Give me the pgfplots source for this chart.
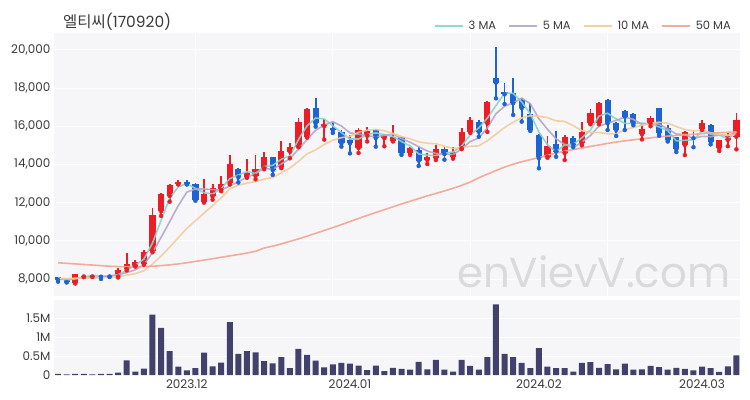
\documentclass[border=0pt]{standalone}
\usepackage{fontspec}
\setmainfont{Poppins}
\newfontfamily\cjk{Noto Sans CJK KR}
\usepackage{pgfplots}
\usepackage{pgfplotstable}
\pgfplotsset{compat=1.18}

\definecolor{bgc}{HTML}{F6F6F8}
\definecolor{txt}{HTML}{3A3A3A}
\definecolor{upc}{HTML}{EE1C25}
\definecolor{dnc}{HTML}{1E63D6}
\definecolor{ma3c}{HTML}{86D5CB}
\definecolor{ma5c}{HTML}{B4A6C9}
\definecolor{ma10c}{HTML}{F2CC9A}
\definecolor{ma50c}{HTML}{F3A393}
\definecolor{volc}{HTML}{42416C}
\definecolor{wmc}{HTML}{DADADA}

% rising candles (close > open)
\pgfplotstableread{
x o h l c
2 7780 8280 7770 8250
3 8130 8220 8100 8180
4 8130 8200 8110 8180
7 8130 8590 8080 8450
8 8520 9350 8450 8810
9 8700 9000 8650 8900
10 8800 9530 8750 9400
11 9450 11700 9400 11350
12 11550 12500 11300 12450
13 12350 13000 12050 12900
14 12970 13200 12950 13100
17 12050 13220 12000 12450
18 12320 13000 12150 12750
19 12660 13400 12600 13000
20 13010 14500 12950 14000
22 13320 14270 13300 13530
23 13400 14490 13220 13750
24 13800 14630 13750 14400
26 13850 15240 13800 14720
27 14670 15100 14320 14930
28 14930 16410 14900 16240
29 15450 16950 15400 16890
31 16000 16400 15300 16100
35 14850 15900 14600 15800
36 15500 15950 15200 15770
38 15370 15600 14950 15540
39 15250 16060 15200 15450
41 14600 14930 14500 14840
43 14230 14580 14020 14400
44 14320 15000 14230 14790
46 14400 14900 14300 14630
47 14840 15890 14800 15700
48 15710 16470 15650 16330
50 16150 17300 15700 17250
57 14400 15490 14350 14960
59 14600 15550 14230 15450
61 15100 16200 15000 15710
62 16150 16890 16100 16680
63 16150 17290 16100 17200
68 15580 16150 15310 15840
69 16150 16530 16000 16410
73 15020 15750 14490 15710
75 15840 16300 15800 16180
77 14840 15300 14700 15280
78 15280 15650 14950 15490
79 15450 16710 14790 16330
}\upcandles

% falling candles (close < open)
\pgfplotstableread{
x o h l c
0 8100 8130 7860 7950
1 7980 7990 7820 7830
5 8170 8180 8000 8120
6 8160 8170 8110 8130
15 13100 13200 12950 12970
16 13000 13050 12100 12150
21 13740 13800 13050 13320
25 14370 14400 13450 13700
30 16940 17460 15980 16150
32 15930 16200 15650 15800
33 15700 15800 14930 15100
34 15280 15540 14580 15100
37 15800 15830 14930 15380
40 15420 15450 14500 14600
42 14760 14920 13920 14200
45 14790 14900 14250 14540
49 16240 16300 15450 15710
51 18500 20160 17460 18280
52 17780 18250 17160 17670
53 17720 18510 16590 17200
54 17370 17500 16240 16940
55 16640 17230 15750 15800
56 15540 15580 13800 14320
58 15070 15770 14400 14670
60 15370 15500 14900 15020
64 17370 17400 15800 16150
65 16180 16200 15490 15800
66 16820 16850 15800 16500
67 16640 16700 16050 16150
70 16940 16940 15500 15630
71 15890 16060 15200 15280
72 15420 15450 14650 14790
74 15450 15800 14900 15370
76 16060 16100 15050 15190
}\downcandles

\pgfplotstableread{
x m3 m5 m10 m50
0 8020 8030 8040 8850
1 7940 7990 8020 8820
2 8010 8030 8040 8790
3 8090 8050 8050 8760
4 8200 8080 8060 8730
5 8160 8110 8070 8700
6 8140 8170 8080 8670
7 8230 8210 8120 8650
8 8460 8340 8200 8640
9 8720 8480 8280 8640
10 9040 8740 8430 8650
11 9880 9380 8780 8670
12 11070 10180 9200 8700
13 12230 11000 9670 8740
14 12820 11840 10160 8790
15 12990 12550 10650 8850
16 12740 12710 11050 8920
17 12520 12710 11450 8990
18 12450 12680 11840 9060
19 12730 12660 12250 9140
20 13250 12870 12710 9210
21 13440 13100 12910 9280
22 13620 13320 13020 9360
23 13530 13520 13100 9450
24 13890 13800 13230 9620
25 13950 13740 13310 9720
26 14270 14020 13560 9840
27 14450 14300 13810 9970
28 15300 14800 14160 10100
29 16020 15300 14550 10240
30 16430 15790 14760 10390
31 16380 16060 15040 10540
32 16020 16240 15270 10690
33 15670 16010 15400 10850
34 15330 15650 15470 11010
35 15330 15580 15680 11170
36 15560 15510 15790 11330
37 15650 15430 15830 11480
38 15560 15520 15760 11630
39 15460 15590 15620 11780
40 15200 15350 15460 11930
41 14960 15160 15340 12070
42 14550 14930 15180 12210
43 14480 14700 15110 12350
44 14460 14570 15080 12480
45 14580 14550 14950 12610
46 14650 14510 14840 12750
47 14960 14810 14870 12900
48 15550 15200 14950 13080
49 15910 15380 14970 13300
50 16430 15920 15240 13490
51 17080 16650 15580 13680
52 17730 17050 15930 13860
53 17720 17220 16210 14010
54 17270 17470 16430 14140
55 16650 17180 16550 14250
56 15690 16390 16520 14360
57 15030 15840 16450 14480
58 14650 15340 16280 14590
59 15030 15040 16250 14690
60 15050 14880 16030 14780
61 15390 15160 15770 14860
62 15800 15510 15680 14940
63 16530 16010 15680 15020
64 16680 16150 15600 15100
65 16380 16310 15600 15170
66 16150 16470 15810 15230
67 16150 16360 15930 15290
68 16160 16090 16050 15340
69 16130 16140 16150 15390
70 15960 16110 16210 15440
71 15770 15860 16160 15480
72 15230 15590 15980 15520
73 15260 15560 15830 15550
74 15290 15360 15750 15580
75 15750 15470 15790 15610
76 15580 15450 15660 15640
77 15550 15550 15570 15660
78 15320 15500 15530 15680
79 15700 15690 15530 15700
}\ma

% volume in millions of shares
\pgfplotstableread{
x v
0 0.03
1 0.02
2 0.03
3 0.03
4 0.02
5 0.03
6 0.03
7 0.06
8 0.39
9 0.09
10 0.17
11 1.60
12 1.25
13 0.63
14 0.22
15 0.12
16 0.18
17 0.59
18 0.23
19 0.33
20 1.40
21 0.56
22 0.63
23 0.60
24 0.37
25 0.31
26 0.47
27 0.18
28 0.69
29 0.53
30 0.38
31 0.20
32 0.28
33 0.32
34 0.30
35 0.25
36 0.13
37 0.25
38 0.10
39 0.19
40 0.16
41 0.14
42 0.35
43 0.15
44 0.40
45 0.14
46 0.09
47 0.40
48 0.24
49 0.14
50 0.47
51 1.87
52 0.56
53 0.47
54 0.32
55 0.18
56 0.71
57 0.22
58 0.18
59 0.18
60 0.09
61 0.32
62 0.34
63 0.19
64 0.29
65 0.15
66 0.30
67 0.14
68 0.15
69 0.24
70 0.21
71 0.14
72 0.19
73 0.16
74 0.12
75 0.22
76 0.18
77 0.08
78 0.23
79 0.52
}\vol

\begin{document}
\begin{tikzpicture}
\useasboundingbox (0,0) rectangle (750bp,400bp);
\node[anchor=west, inner sep=0pt, text=txt, font=\fontsize{15.5}{16}\selectfont] at (63bp,378bp) {{\cjk 엘티씨}(170920)};

\begin{axis}[
  at={(54bp,104bp)}, anchor=south west, scale only axis,
  width=686bp, height=262.7bp,
  xmin=-0.47, xmax=79.42, ymin=7110, ymax=20865,
  axis background/.style={fill=bgc},
  axis line style={draw=none},
  major tick length=0pt,
  xtick={16,32,48,64}, xticklabels={},
  ytick={8000,10000,...,20000},
  scaled y ticks=false,
  /pgf/number format/1000 sep={,},
  /pgf/number format/assume math mode=true,
  grid=major, grid style={white, line width=1bp},
  ticklabel style={font=\fontsize{12}{12}\selectfont, text=txt},
  legend style={at={(1,1)}, anchor=south east, xshift=-4bp, yshift=-2bp,
    draw=none, fill=none, legend columns=4,
    font=\fontsize{11.5}{12}\selectfont, text=txt,
    /tikz/every odd column/.append style={column sep=3bp},
    /tikz/every even column/.append style={column sep=10bp}},
  legend image code/.code={\draw[#1, line width=1.8bp] (0bp,0bp) -- (28bp,0bp);},
]
\node[anchor=base east, inner sep=0pt, text=wmc, font=\fontsize{42}{42}\selectfont] at (axis cs:78.3,7560) {enVievV.com};

\addplot[forget plot, only marks, mark=none, upc,
  error bars/.cd, y dir=plus, y explicit, error mark=none,
  error bar style={line width=1.8bp, upc}]
  table[x=x, y=l, y error plus expr=\thisrow{h}-\thisrow{l}] {\upcandles};
\addplot[forget plot, only marks, mark=none, upc,
  error bars/.cd, y dir=plus, y explicit, error mark=none,
  error bar style={line width=6.2bp, upc}]
  table[x=x, y=o, y error plus expr=\thisrow{c}-\thisrow{o}] {\upcandles};
\addplot[forget plot, only marks, mark=none, dnc,
  error bars/.cd, y dir=plus, y explicit, error mark=none,
  error bar style={line width=1.8bp, dnc}]
  table[x=x, y=l, y error plus expr=\thisrow{h}-\thisrow{l}] {\downcandles};
\addplot[forget plot, only marks, mark=none, dnc,
  error bars/.cd, y dir=plus, y explicit, error mark=none,
  error bar style={line width=6.2bp, dnc}]
  table[x=x, y=c, y error plus expr=\thisrow{o}-\thisrow{c}] {\downcandles};

\addplot[ma3c, line width=1.6bp, opacity=0.9] table[x=x, y=m3] {\ma};
\addlegendentry{3 MA}
\addplot[ma5c, line width=1.6bp, opacity=0.9] table[x=x, y=m5] {\ma};
\addlegendentry{5 MA}
\addplot[ma10c, line width=1.6bp, opacity=0.9] table[x=x, y=m10] {\ma};
\addlegendentry{10 MA}
\addplot[ma50c, line width=1.6bp, opacity=0.9] table[x=x, y=m50] {\ma};
\addlegendentry{50 MA}
\end{axis}

\begin{axis}[
  at={(54bp,24bp)}, anchor=south west, scale only axis,
  width=686bp, height=76bp,
  xmin=-0.47, xmax=79.42, ymin=-0.026, ymax=1.984,
  axis background/.style={fill=bgc},
  axis line style={draw=none},
  major tick length=0pt,
  xtick={15,34,56,75}, xticklabels={2023.12,2024.01,2024.02,2024.03},
  ytick={0,0.5,1,1.5}, yticklabels={0,0.5M,1M,1.5M},
  ymajorgrids, grid style={white, line width=1bp},
  ticklabel style={font=\fontsize{12}{12}\selectfont, text=txt},
  ybar, bar width=6bp,
]
\addplot[fill=volc, draw=none] table[x=x, y=v] {\vol};
\end{axis}
\end{tikzpicture}
\end{document}
